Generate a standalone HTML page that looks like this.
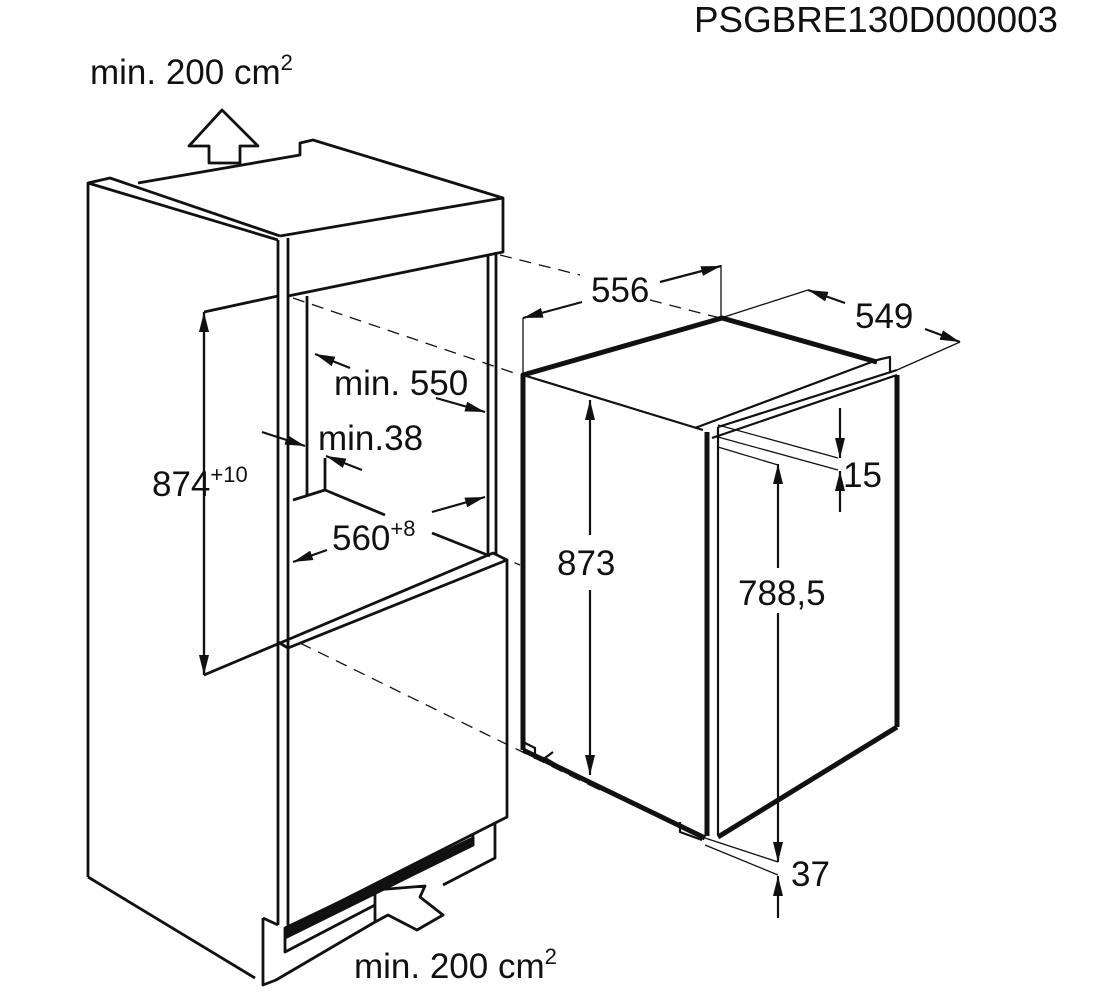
<!DOCTYPE html>
<html><head><meta charset="utf-8"><style>
html,body{margin:0;padding:0;background:#fff;width:1100px;height:1000px;overflow:hidden}
svg text{font-family:"Liberation Sans",Arial,sans-serif;fill:#111}
</style></head><body>
<svg width="1100" height="1000" viewBox="0 0 1100 1000" xmlns="http://www.w3.org/2000/svg">
<defs>
<marker id="ahL" viewBox="0 0 20 10" refX="20" refY="5" markerWidth="20" markerHeight="10" markerUnits="userSpaceOnUse" orient="auto"><path d="M0,0 L20,5 L0,10 z" fill="#111"/></marker>
</defs>
<g fill="none" stroke="#111" stroke-width="2.8" stroke-linejoin="round">
<polygon points="222,110 258,146 240,146 240,163 209,163 209,146 189,146" />
<polyline points="88,877 88,183 110,178 280,236" />
<line x1="88" y1="183" x2="278" y2="240"/>
<line x1="88" y1="877" x2="255" y2="978"/>
<line x1="278" y1="240" x2="278" y2="925"/>
<line x1="288" y1="238" x2="288" y2="928"/>
<polyline points="138,183 300,155 300,143 313,140 503,198 503,252 288,296"/>
<line x1="280" y1="236" x2="503" y2="198"/>
<line x1="488" y1="255" x2="488" y2="555"/>
<line x1="496" y1="252" x2="496" y2="555"/>
<line x1="307" y1="296" x2="307" y2="495"/>
<line x1="325" y1="458" x2="325" y2="490"/>
<polyline points="293,500 325,490 385,515"/>
<line x1="432" y1="533" x2="490" y2="556"/>
<polyline points="280,643 493,553 507,560 507,817 288,928"/>
<line x1="288" y1="648" x2="507" y2="560"/>
<line x1="278" y1="642" x2="288" y2="648"/>
<polygon points="285,928 473,838 473,845 285,938" fill="#111"/>
<polyline points="285,938 285,952 375,905"/>
<polyline points="473,833 473,845 418,872"/>
<polyline points="495,823 495,858 443,885"/>
<polyline points="263,918 263,985 276,980 375,922"/>
<polyline points="263,918 278,925"/>
<polygon points="375,890 425,886 420,897 443,915 417,930 388,915 375,922"/>
<polyline points="278,296 204,312"/>
<polyline points="280,643 204,675"/>
</g>
<g stroke="#111" stroke-width="2.2" fill="none">
<line x1="204" y1="312" x2="204" y2="675" marker-end="url(#ahL)"/>
<line x1="204" y1="675" x2="204" y2="312" marker-end="url(#ahL)"/>
<line x1="350" y1="368" x2="315" y2="354" marker-end="url(#ahL)"/>
<line x1="436" y1="398" x2="485" y2="412" marker-end="url(#ahL)"/>
<line x1="262" y1="432" x2="305" y2="446" marker-end="url(#ahL)"/>
<line x1="362" y1="470" x2="326" y2="456" marker-end="url(#ahL)"/>
<line x1="432" y1="512" x2="485" y2="497" marker-end="url(#ahL)"/>
<line x1="327" y1="550" x2="293" y2="562" marker-end="url(#ahL)"/>
</g>
<g stroke="#111" stroke-width="1.3" fill="none" stroke-dasharray="12,8">
<line x1="293" y1="298" x2="520" y2="375"/>
<line x1="500" y1="255" x2="580" y2="275"/>
<line x1="650" y1="300" x2="720" y2="318"/>
<line x1="300" y1="643" x2="600" y2="790"/>
<line x1="496" y1="555" x2="520" y2="565"/>
</g>
<g fill="none" stroke="#111" stroke-width="5" stroke-linejoin="round">
<polyline points="523,750 523,375 722,318 877,362"/>
<polyline points="523,750 705,838"/>
<line x1="707" y1="432" x2="707" y2="836"/>
<line x1="897" y1="375" x2="897" y2="727"/>
<line x1="897" y1="727" x2="718" y2="837"/>
</g>
<g fill="none" stroke="#111" stroke-width="2.2" stroke-linejoin="round">
<line x1="523" y1="375" x2="703" y2="430"/>
<polyline points="695,428 877,360 890,357 890,372"/>
<polyline points="718,427 897,370"/>
<polyline points="712,438 897,375"/>
<line x1="718" y1="427" x2="718" y2="835"/>
<polyline points="523,742 535,748 535,758 545,758 553,752"/>
<polyline points="680,822 680,832 702,840"/>
</g>
<g stroke="#111" stroke-width="1.3" fill="none">
<line x1="523" y1="318" x2="523" y2="375"/>
<line x1="721" y1="265" x2="721" y2="318"/>
<line x1="721" y1="318" x2="808" y2="290"/>
<line x1="897" y1="370" x2="960" y2="342"/>
<line x1="718" y1="425" x2="838" y2="458"/>
<line x1="718" y1="437" x2="838" y2="470"/>
<line x1="718" y1="447" x2="778" y2="465"/>
<line x1="705" y1="838" x2="778" y2="862"/>
<line x1="705" y1="845" x2="778" y2="875"/>
<line x1="546" y1="758" x2="600" y2="790" stroke-dasharray="12,8"/>
</g>
<g stroke="#111" stroke-width="2.2" fill="none">
<line x1="582" y1="302" x2="523" y2="318" marker-end="url(#ahL)"/>
<line x1="660" y1="282" x2="721" y2="266" marker-end="url(#ahL)"/>
<line x1="845" y1="303" x2="808" y2="290" marker-end="url(#ahL)"/>
<line x1="925" y1="329" x2="960" y2="342" marker-end="url(#ahL)"/>
<line x1="590" y1="535" x2="590" y2="400" marker-end="url(#ahL)"/>
<line x1="590" y1="590" x2="590" y2="775" marker-end="url(#ahL)"/>
<line x1="778" y1="568" x2="778" y2="464" marker-end="url(#ahL)"/>
<line x1="778" y1="613" x2="778" y2="862" marker-end="url(#ahL)"/>
<line x1="840" y1="408" x2="840" y2="458" marker-end="url(#ahL)"/>
<line x1="840" y1="512" x2="840" y2="471" marker-end="url(#ahL)"/>
<line x1="778" y1="918" x2="778" y2="876" marker-end="url(#ahL)"/>
</g>
<text x="694" y="32" font-size="36" textLength="364" lengthAdjust="spacingAndGlyphs">PSGBRE130D000003</text>
<text x="90" y="84" font-size="35">min. 200 cm<tspan font-size="22" dy="-14">2</tspan></text>
<text x="354" y="978" font-size="35">min. 200 cm<tspan font-size="22" dy="-14">2</tspan></text>
<text x="334" y="395" font-size="35">min. 550</text>
<text x="318" y="450" font-size="35">min.38</text>
<text x="152" y="496" font-size="35">874<tspan font-size="22" dy="-14">+10</tspan></text>
<text x="332" y="550" font-size="35">560<tspan font-size="22" dy="-14">+8</tspan></text>
<text x="591" y="302" font-size="35">556</text>
<text x="855" y="328" font-size="35">549</text>
<text x="557" y="575" font-size="35">873</text>
<text x="738" y="605" font-size="35">788,5</text>
<text x="843" y="487" font-size="35">15</text>
<text x="791" y="886" font-size="35">37</text>
</svg>
</body></html>
